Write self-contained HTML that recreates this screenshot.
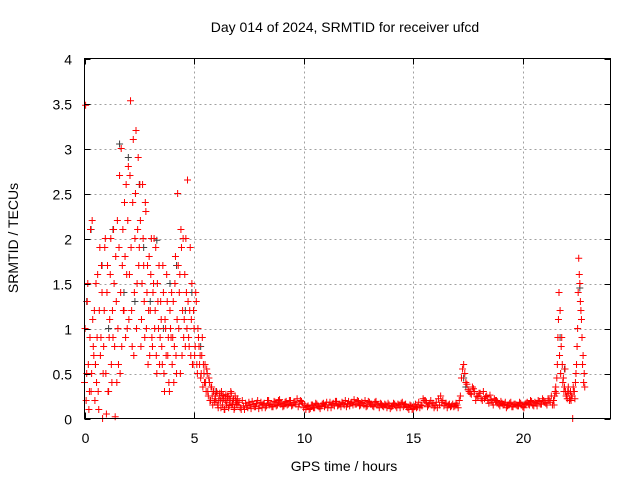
<!DOCTYPE html>
<html><head><meta charset="utf-8"><style>
body{margin:0;background:#fff;}
svg{display:block;font-family:"Liberation Sans",sans-serif;}
</style></head><body>
<svg id="chart" width="640" height="480" viewBox="0 0 640 480">
<rect x="0" y="0" width="640" height="480" fill="#fff"/>
<g id="grid"></g>
<g id="marks"></g>
<rect x="84.5" y="58.5" width="526" height="360" fill="none" stroke="#000" stroke-width="1"/>
<g id="ticks"></g>
<text x="345" y="32" text-anchor="middle" font-size="14">Day 014 of 2024, SRMTID for receiver ufcd</text>
<text x="344" y="471" text-anchor="middle" font-size="14">GPS time / hours</text>
<text transform="translate(18,238) rotate(-90)" text-anchor="middle" font-size="14">SRMTID / TECUs</text>
</svg>
<script>
const xTicks=[0,5,10,15,20];
const yTicks=[0,0.5,1,1.5,2,2.5,3,3.5,4];
const yTickLabels=["0","0.5","1","1.5","2","2.5","3","3.5","4"];
// segment 1: 0-5.5 h, step 0.05
const seg1Start=0, seg1Step=0.05;
const seg1A=[0.4,3.48,0.5,1.5,0.1,0.9,0.3,2.2,0.8,1.2,0.6,0.4,1.6,0.1,1.9,0.9,1.4,0.5,1.2,2.0,0.05,1.7,0.3,1.1,2.0,0.4,0.9,1.5,0.02,1.3,2.2,0.6,2.7,1.4,0.8,2.1,1.2,1.8,2.6,1.0,2.8,1.6,3.53,1.2,2.4,0.7,2.0,3.2,1.5,2.9,1.9,2.2,1.1,2.6,1.7,0.9,2.3,1.4,0.6,1.8,1.2,2.0,0.8,1.5,1.0,1.9,0.5,1.3,1.7,0.9,1.1,0.6,1.4,0.3,1.0,1.6,0.7,0.4,1.2,0.9,0.6,1.3,0.8,1.8,0.5,2.5,1.0,1.6,2.1,0.7,2.0,1.1,0.8,1.4,2.65,0.9,1.2,0.7,1.5,0.6,1.0,0.8,1.3,0.5,0.9,0.6,0.45,0.7,0.35,0.5];
const seg1B=[1.0,0.2,1.3,0.6,0.3,2.1,0.5,1.1,0.7,0.2,1.5,0.9,0.3,1.2,0.7,1.7,0.0,0.8,1.9,0.5,1.4,0.3,0.9,1.6,0.6,1.2,2.1,0.8,1.8,0.4,1.0,1.9,0.5,3.0,1.7,1.2,2.4,0.9,1.6,2.2,1.1,2.7,1.9,0.8,3.1,1.4,2.5,1.0,2.1,1.7,2.6,0.8,1.5,2.0,1.3,2.4,1.0,1.7,1.2,0.7,1.6,0.9,1.4,2.0,1.2,0.7,1.5,1.0,0.6,1.3,0.8,1.7,0.5,1.1,0.7,1.3,0.9,0.3,1.0,1.4,0.9,0.4,1.5,0.7,1.1,1.7,1.4,0.5,1.9,1.2,0.9,1.6,2.0,1.0,1.3,0.8,1.9,1.1,0.6,1.2,0.7,1.4,0.6,1.0,0.8,0.7,0.5,0.9,0.6,0.4];
// segment 2: 5.5-7 h, step 0.05
const seg2Start=5.5, seg2Step=0.05;
const seg2A=[0.6,0.3,0.5,0.25,0.4,0.2,0.35,0.15,0.3,0.22,0.18,0.28,0.12,0.25,0.2,0.3,0.15,0.22,0.1,0.27,0.18,0.24,0.14,0.2,0.28,0.16,0.22,0.12,0.2,0.18];
const seg2B=[0.4,0.55,0.3,0.45,0.2,0.35,0.25,0.3,0.18,0.25,0.3,0.15,0.2,0.28,0.12,0.22,0.26,0.1,0.2,0.15,0.25,0.12,0.22,0.3,0.15,0.2,0.1,0.25,0.16,0.22];
// segment 3: 7-21.4 h, step 0.1
const seg3Start=7, seg3Step=0.1;
const seg3A=[0.15,0.12,0.2,0.1,0.14,0.18,0.11,0.16,0.13,0.2,
0.15,0.12,0.17,0.14,0.2,0.16,0.13,0.18,0.15,0.21,
0.17,0.14,0.19,0.16,0.2,0.15,0.18,0.22,0.16,0.19,
0.12,0.1,0.14,0.11,0.15,0.12,0.16,0.13,0.14,0.17,
0.15,0.12,0.18,0.16,0.14,0.19,0.15,0.13,0.17,0.2,
0.16,0.14,0.18,0.21,0.16,0.19,0.15,0.17,0.2,0.14,
0.18,0.16,0.13,0.19,0.15,0.17,0.14,0.16,0.12,0.15,
0.13,0.17,0.14,0.16,0.12,0.18,0.15,0.13,0.1,0.14,
0.11,0.16,0.13,0.12,0.14,0.2,0.18,0.15,0.2,0.17,
0.14,0.12,0.15,0.18,0.14,0.17,0.15,0.13,0.16,0.14,
0.15,0.2,0.45,0.6,0.4,0.32,0.28,0.35,0.3,0.25,
0.28,0.22,0.3,0.24,0.2,0.26,0.18,0.22,0.2,0.16,
0.19,0.15,0.18,0.14,0.17,0.13,0.16,0.15,0.14,0.17,
0.13,0.16,0.18,0.15,0.19,0.14,0.17,0.2,0.16,0.22,
0.18,0.15,0.2,0.25];
const seg3B=[0.18,0.1,0.14,0.17,0.12,0.15,0.19,0.13,0.17,0.11,
0.18,0.16,0.12,0.2,0.15,0.13,0.19,0.14,0.2,0.16,
0.13,0.18,0.15,0.2,0.14,0.18,0.16,0.13,0.2,0.17,
0.15,0.13,0.1,0.15,0.12,0.17,0.14,0.11,0.16,0.13,
0.18,0.15,0.12,0.17,0.19,0.14,0.16,0.18,0.15,0.13,
0.19,0.17,0.15,0.16,0.2,0.14,0.18,0.15,0.13,0.19,
0.16,0.14,0.18,0.15,0.12,0.16,0.13,0.15,0.17,0.11,
0.14,0.16,0.12,0.15,0.17,0.13,0.16,0.12,0.15,0.1,
0.13,0.12,0.18,0.15,0.22,0.2,0.13,0.17,0.15,0.12,
0.18,0.22,0.25,0.2,0.17,0.12,0.16,0.14,0.13,0.17,
0.12,0.25,0.55,0.5,0.38,0.3,0.27,0.33,0.2,0.24,
0.28,0.2,0.22,0.25,0.17,0.21,0.15,0.2,0.18,0.14,
0.17,0.16,0.12,0.15,0.18,0.13,0.16,0.14,0.18,0.15,
0.12,0.17,0.16,0.2,0.15,0.18,0.14,0.19,0.16,0.2,
0.17,0.22,0.18,0.15];
// segment 4: 21.4-22.8 h, step 0.05
const seg4Start=21.4, seg4Step=0.05;
const seg4A=[0.2,0.25,0.35,0.45,0.9,1.4,1.2,0.8,0.6,0.45,0.35,0.3,0.25,0.3,0.28,0.22,0.2,0.25,0.35,0.3,0.4,0.6,1.0,1.78,1.5,1.2,0.9,0.7,0.5];
const seg4B=[0.15,0.3,0.28,0.6,1.1,0.7,0.5,0.9,0.4,0.3,0.55,0.25,0.22,0.35,0.2,0.3,0.25,0.0,0.3,0.22,0.5,0.8,1.4,1.6,1.3,1.1,0.6,0.4,0.35];
// dark series (sparser)
const darkT=[0.1,0.3,0.5,0.8,1.1,1.3,1.6,1.8,2.0,2.3,2.5,2.7,3.0,3.3,3.6,3.9,4.2,4.6,4.9,5.3,6.0,17.3,17.4,21.7,21.9,22.6];
const darkV=[1.3,2.1,0.6,1.7,1.0,2.1,3.05,1.4,2.9,1.3,2.6,1.9,1.3,1.98,1.0,1.5,1.7,1.2,1.4,0.8,0.3,0.45,0.35,0.9,0.55,1.45];

const X0=84.5,X1=610.5,Y0=418.5,Y1=58.5;
const xs=t=>X0+(t/24)*(X1-X0);
const ys=v=>Y0-(v/4)*(Y0-Y1);
const NS="http://www.w3.org/2000/svg";
const grid=document.getElementById('grid'),ticks=document.getElementById('ticks'),marks=document.getElementById('marks');
function line(p,x1,y1,x2,y2,st,dash){const l=document.createElementNS(NS,'line');l.setAttribute('x1',x1);l.setAttribute('y1',y1);l.setAttribute('x2',x2);l.setAttribute('y2',y2);l.setAttribute('stroke',st);if(dash)l.setAttribute('stroke-dasharray',dash);p.appendChild(l);return l;}
function text(x,y,s,a){const t=document.createElementNS(NS,'text');t.setAttribute('x',x);t.setAttribute('y',y);t.setAttribute('text-anchor',a);t.setAttribute('font-size','14');t.textContent=s;ticks.appendChild(t);return t;}
xTicks.forEach(v=>{const x=Math.round(xs(v))+0.5;
 if(v>0){const g=line(grid,x,Y0,x,Y1,'#a0a0a0','2,3');}
 const a=line(ticks,x,Y0,x,Y0-6,'#000');
 const b=line(ticks,x,Y1,x,Y1+6,'#000');
 const t=text(x,443,String(v),'middle');});
yTicks.forEach((v,i)=>{const y=Math.round(ys(v))+0.5;
 if(v>0&&v<4){const g=line(grid,X0,y,X1,y,'#a0a0a0','2,3');}
 const a=line(ticks,X0,y,X0+6,y,'#000');
 const b=line(ticks,X1,y,X1-6,y,'#000');
 const t=text(72,y+5,yTickLabels[i],'end');});
function plus(t,v,col,name){const x=xs(t),y=ys(v);const p=document.createElementNS(NS,'path');
 p.setAttribute('d',`M${x-3.5},${y}h7M${x},${y-3.5}v7`);p.setAttribute('stroke',col);p.setAttribute('stroke-width','1');
 
 
 marks.appendChild(p);}
darkT.forEach((t,i)=>plus(t,darkV[i],'#404040','dark-point'));
function seg(start,step,arr,off){arr.forEach((v,i)=>plus(start+i*step+off,v,'#ff0000','red-point'));}
seg(seg1Start,seg1Step,seg1A,0);seg(seg1Start,seg1Step,seg1B,0.025);
seg(seg2Start,seg2Step,seg2A,0);seg(seg2Start,seg2Step,seg2B,0.025);
seg(seg3Start,seg3Step,seg3A,0);seg(seg3Start,seg3Step,seg3B,0.05);
seg(seg4Start,seg4Step,seg4A,0);seg(seg4Start,seg4Step,seg4B,0.025);
</script>
</body></html>
